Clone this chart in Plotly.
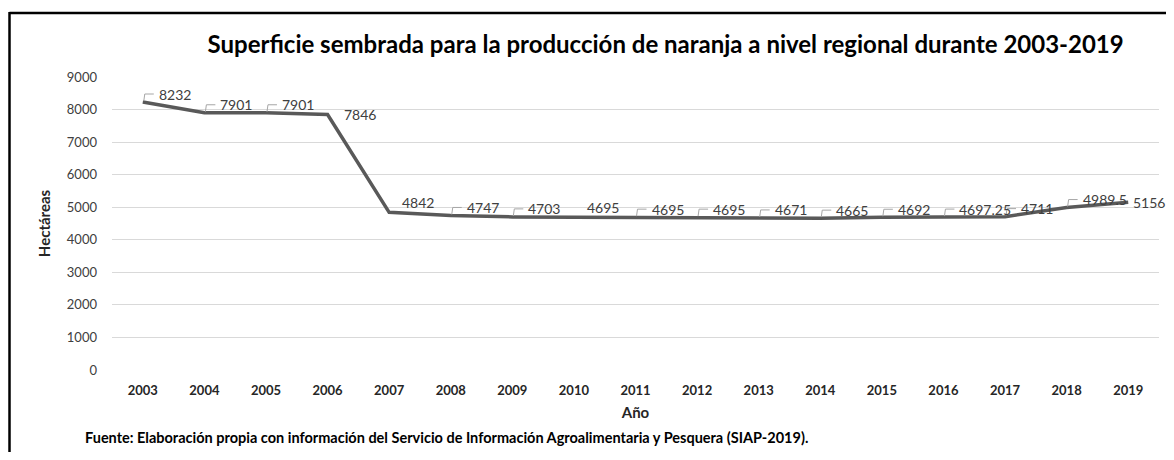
import plotly.graph_objects as go

years = ["2003", "2004", "2005", "2006", "2007", "2008", "2009", "2010", "2011",
         "2012", "2013", "2014", "2015", "2016", "2017", "2018", "2019"]
hectareas = [8232, 7901, 7901, 7846, 4842, 4747, 4703, 4695, 4695,
             4695, 4671, 4665, 4692, 4697.25, 4711, 4989.5, 5156]
value_labels = ["8232", "7901", "7901", "7846", "4842", "4747", "4703", "4695", "4695",
                "4695", "4671", "4665", "4692", "4697.25", "4711", "4989.5", "5156"]
# how Excel placed each data label: "leader" = above-right with callout line
label_kind = ["leader", "leader", "leader", "right", "above", "leader", "leader", "above",
              "leader", "leader", "leader", "leader", "leader", "leader", "leader",
              "leader", "edge"]

FONT = "Lato, 'Open Sans', sans-serif"
xs = list(range(len(years)))

fig = go.Figure()
fig.add_trace(
    go.Scatter(
        x=xs,
        y=hectareas,
        mode="lines",
        line={"color": "#595959", "width": 3.5},
        hoverinfo="skip",
        showlegend=False,
    )
)

for x, y, text, kind in zip(xs, hectareas, value_labels, label_kind):
    if kind == "right":
        shift = (14, 0)
    elif kind == "edge":
        shift = (3, 0)  # last label sits against the page edge
    elif kind == "above":
        shift = (11, 10)
    else:
        shift = (14, 8)
        fig.add_shape(
            type="path",
            path="M 1,1 L 2,8 L 11,8",
            xref="x", yref="y",
            xsizemode="pixel", ysizemode="pixel",
            xanchor=x, yanchor=y,
            line={"color": "#a6a6a6", "width": 1},
        )
    fig.add_annotation(
        x=x, y=y, text=text, showarrow=False,
        xanchor="left", yanchor="middle",
        xshift=shift[0], yshift=shift[1],
        font={"family": FONT, "size": 14, "color": "#404040"},
    )

# frame of the original chart object (cut at right and bottom)
fig.add_shape(type="line", xref="paper", yref="paper",
              xsizemode="pixel", ysizemode="pixel", xanchor=0, yanchor=1,
              x0=-102.5, x1=1200, y0=64, y1=64,
              line={"color": "black", "width": 2.5})
fig.add_shape(type="line", xref="paper", yref="paper",
              xsizemode="pixel", ysizemode="pixel", xanchor=0, yanchor=1,
              x0=-102.5, x1=-102.5, y0=65, y1=-500,
              line={"color": "black", "width": 2.5})

fig.add_annotation(
    text="<b>Fuente: Elaboración propia con información del Servicio de Información Agroalimentaria y Pesquera (SIAP-2019).</b>",
    xref="paper", yref="paper", x=0, y=0, xanchor="left", yanchor="middle",
    xshift=-29, yshift=-67, showarrow=False,
    font={"family": FONT, "size": 14.5, "color": "#000000"},
)

# the page body adds an 8px margin, so the figure is made smaller than the window
fig.update_layout(
    width=1166,
    height=444,
    template="plotly_white",
    paper_bgcolor="white",
    plot_bgcolor="white",
    title={
        "text": "<b>Superficie sembrada para la producción de naranja a nivel regional durante 2003-2019</b>",
        "x": 0.564, "xanchor": "center", "y": 0.917, "yanchor": "middle",
        "font": {"family": FONT, "size": 24, "color": "#000000"},
    },
    margin={"l": 104, "r": 15, "t": 69, "b": 82},
    xaxis={
        "range": [-0.5, len(years) - 0.5],
        "tickvals": xs,
        "ticktext": [f"<b>{y}</b>" for y in years],
        "showgrid": False,
        "zeroline": False,
        "showline": False,
        "ticks": "",
        "ticklabelstandoff": 11,
        "tickfont": {"family": FONT, "size": 13, "color": "#262626"},
        "title": {"text": "<b>Año</b>", "standoff": 10,
                  "font": {"family": FONT, "size": 15, "color": "#262626"}},
    },
    yaxis={
        "range": [0, 9000],
        "dtick": 1000,
        "showgrid": True,
        "gridcolor": "#d9d9d9",
        "gridwidth": 1,
        "zeroline": False,
        "showline": False,
        "ticks": "",
        "ticklabelstandoff": 14,
        "tickfont": {"family": FONT, "size": 13, "color": "#404040"},
        "title": {"text": "<b>Hectáreas</b>", "standoff": 12,
                  "font": {"family": FONT, "size": 15, "color": "#262626"}},
    },
)

fig.write_html("out.html")
